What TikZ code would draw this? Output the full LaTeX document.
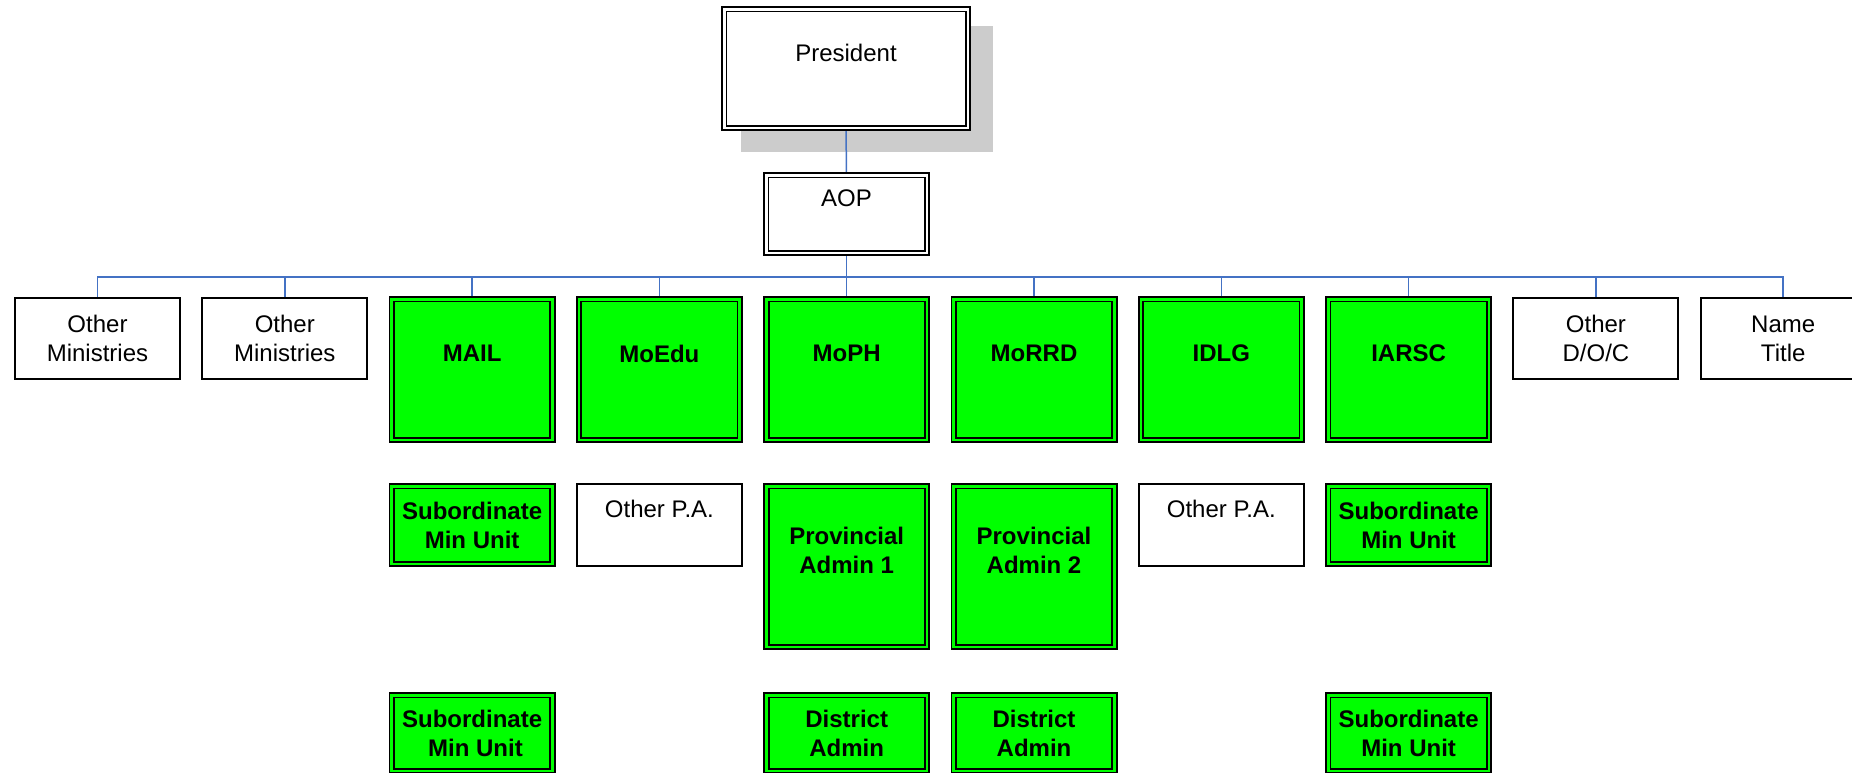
\documentclass[tikz,border=0pt]{standalone}
\usepackage{fontspec}
\setmainfont{Liberation Sans}
\usetikzlibrary{backgrounds}
\definecolor{linkblue}{RGB}{68,114,196}
\definecolor{ministry}{RGB}{0,255,0}
\definecolor{shadowgray}{RGB}{204,204,204}
\tikzset{
  unit/.style={draw, line width=1pt, fill=white, align=center, inner sep=0pt,
    minimum width=82.5pt, font=\fontsize{12}{14.5}\selectfont},
  dunit/.style={unit, line width=0.9pt, double=white, double distance=1.35pt,
    minimum width=80.35pt},
  gunit/.style={dunit, fill=ministry, double=ministry,
    font=\fontsize{12}{14.5}\selectfont\bfseries},
  link/.style={draw=linkblue, line width=0.75pt},
}
% empty second line, lifts a label towards the top of its box
\newcommand{\up}{\\[1.5pt]\mbox{}}
\begin{document}
\begin{tikzpicture}[x=0.5pt,y=-0.5pt]
  \def\xo{97.5} \def\dx{187.3}
  \useasboundingbox (0,0) rectangle (1852,772);
  % top
  \node[dunit, minimum width=121.85pt, minimum height=59.35pt] (pres) at (846,68.5) {President\up};
  \node[dunit, minimum height=38.85pt] (aop) at (846.5,214) {AOP\up};
  \coordinate (bus) at (846.5,277);
  % ministries
  \node[unit, minimum height=40.5pt] (om1) at ({\xo+0*\dx},338.5) {Other\\Ministries};
  \node[unit, minimum height=40.5pt] (om2) at ({\xo+1*\dx},338.5) {Other\\Ministries};
  \node[gunit, minimum height=70.35pt] (mail) at ({\xo+2*\dx},369.5) {MAIL\up};
  \node[gunit, minimum height=70.35pt] (moedu) at ({\xo+3*\dx},369.5) {MoEdu\up};
  \node[gunit, minimum height=70.35pt] (moph) at ({\xo+4*\dx},369.5) {MoPH\up};
  \node[gunit, minimum height=70.35pt] (morrd) at ({\xo+5*\dx},369.5) {MoRRD\up};
  \node[gunit, minimum height=70.35pt] (idlg) at ({\xo+6*\dx},369.5) {IDLG\up};
  \node[gunit, minimum height=70.35pt] (iarsc) at ({\xo+7*\dx},369.5) {IARSC\up};
  \node[unit, minimum height=40.5pt] (odoc) at ({\xo+8*\dx},338.5) {Other\\D/O/C};
  \node[unit, minimum height=40.5pt] (nmtl) at ({\xo+9*\dx},338.5) {Name\\Title};
  % second row
  \node[gunit, minimum height=38.85pt] (mailsub) at ({\xo+2*\dx},525) {Subordinate\\Min Unit};
  \node[unit, minimum height=41pt] (edupa) at ({\xo+3*\dx},525) {Other P.A.\up};
  \node[gunit, minimum height=80.35pt] (prov1) at ({\xo+4*\dx},566.5) {Provincial\\Admin 1\up};
  \node[gunit, minimum height=80.35pt] (prov2) at ({\xo+5*\dx},566.5) {Provincial\\Admin 2\up};
  \node[unit, minimum height=41pt] (idlgpa) at ({\xo+6*\dx},525) {Other P.A.\up};
  \node[gunit, minimum height=38.85pt] (iarscsub) at ({\xo+7*\dx},525) {Subordinate\\Min Unit};
  % third row
  \node[gunit, minimum height=37.85pt] (mailsub2) at ({\xo+2*\dx},733) {Subordinate\\~Min Unit};
  \node[gunit, minimum height=37.85pt] (dist1) at ({\xo+4*\dx},733) {District\\Admin};
  \node[gunit, minimum height=37.85pt] (dist2) at ({\xo+5*\dx},733) {District\\Admin};
  \node[gunit, minimum height=37.85pt] (iarscsub2) at ({\xo+7*\dx},733) {Subordinate\\Min Unit};
  \begin{scope}[on background layer]
    \fill[shadowgray] (741,26) rectangle (993,152);
    \draw[link] (pres.south) -- (aop.north);
    \draw[link] (aop.south) -- (bus);
    \foreach \n in {om1,om2,mail,moedu,moph,morrd,idlg,iarsc,odoc,nmtl}
      \draw[link] (bus) -| (\n.north);
  \end{scope}
\end{tikzpicture}
\end{document}
